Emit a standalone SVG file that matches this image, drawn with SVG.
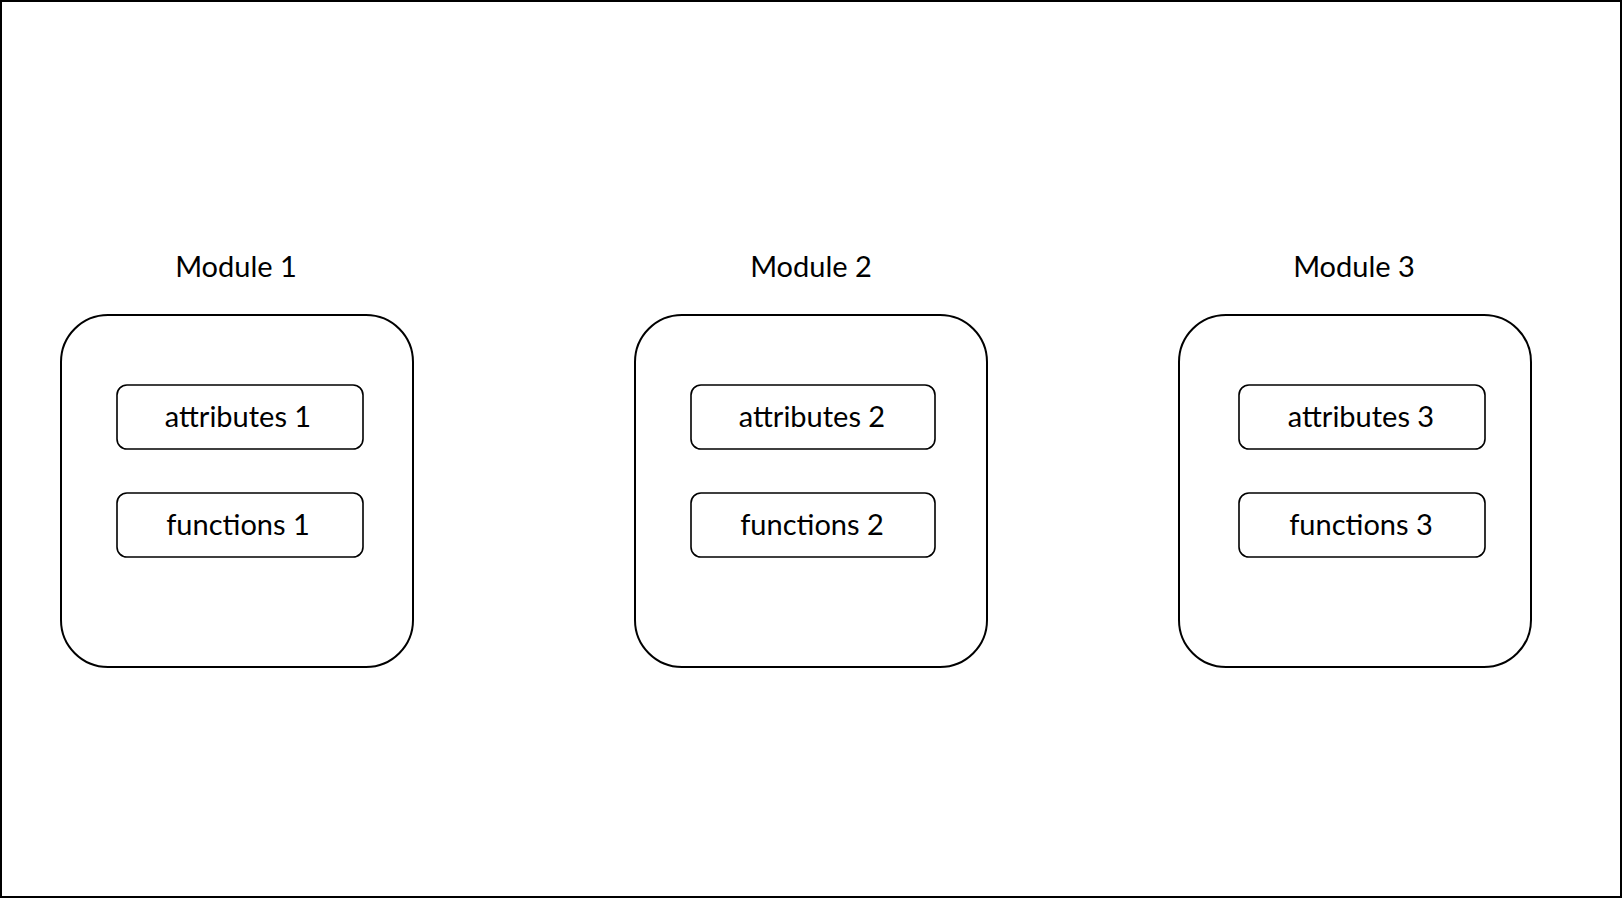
<svg xmlns="http://www.w3.org/2000/svg" width="1622" height="898" viewBox="0 0 1622 898">
<style>
.frame{fill:#fff;stroke:#000;stroke-width:2}
.mod{fill:#fff;stroke:#000;stroke-width:2}
.item{fill:#fff;stroke:#000;stroke-width:1.6}
text{font-family:Lato,"Open Sans","Liberation Sans",sans-serif;fill:#000;text-anchor:middle}
.title{font-size:29px}
.lbl{font-size:29px}
</style>
<rect class="frame" x="1" y="1" width="1620" height="896"/>
<g id="connectors"></g>
<g id="module1">
<text class="title" x="236" y="277">Module 1</text>
<rect class="mod" x="61" y="315" width="352" height="352" rx="47" ry="47"/>
<g id="attributes1"><rect class="item" x="117" y="385" width="246" height="64" rx="10" ry="10"/><text class="lbl" x="238" y="427">attributes 1</text></g>
<g id="functions1"><rect class="item" x="117" y="493" width="246" height="64" rx="10" ry="10"/><text class="lbl" x="238" y="535">functions 1</text></g>
</g>
<g id="module2">
<text class="title" x="811" y="277">Module 2</text>
<rect class="mod" x="635" y="315" width="352" height="352" rx="47" ry="47"/>
<g id="attributes2"><rect class="item" x="691" y="385" width="244" height="64" rx="10" ry="10"/><text class="lbl" x="812" y="427">attributes 2</text></g>
<g id="functions2"><rect class="item" x="691" y="493" width="244" height="64" rx="10" ry="10"/><text class="lbl" x="812" y="535">functions 2</text></g>
</g>
<g id="module3">
<text class="title" x="1354" y="277">Module 3</text>
<rect class="mod" x="1179" y="315" width="352" height="352" rx="47" ry="47"/>
<g id="attributes3"><rect class="item" x="1239" y="385" width="246" height="64" rx="10" ry="10"/><text class="lbl" x="1361" y="427">attributes 3</text></g>
<g id="functions3"><rect class="item" x="1239" y="493" width="246" height="64" rx="10" ry="10"/><text class="lbl" x="1361" y="535">functions 3</text></g>
</g>
</svg>
